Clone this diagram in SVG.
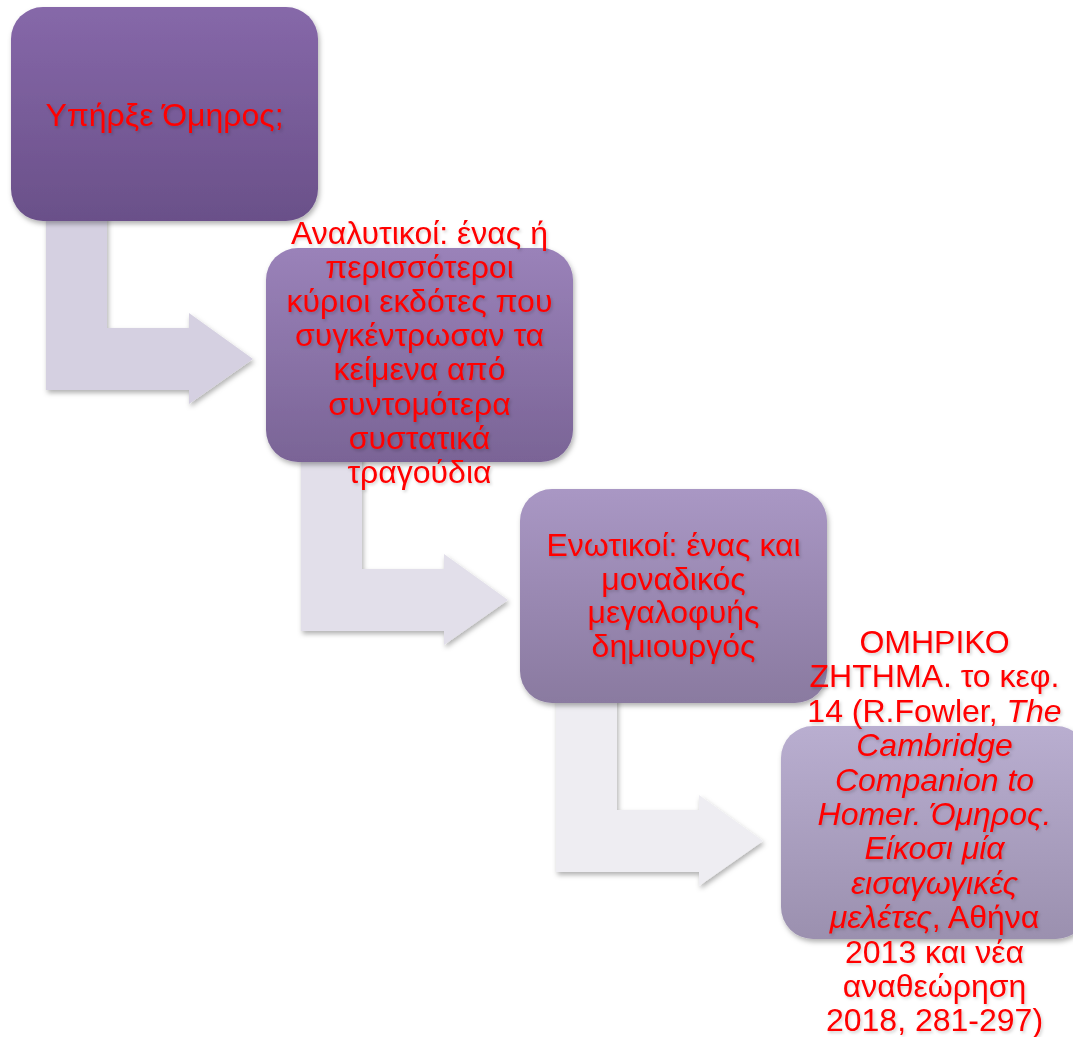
<svg xmlns="http://www.w3.org/2000/svg" width="1073" height="1037" viewBox="0 0 1073 1037">
  <defs>
    <linearGradient id="g1" x1="0" y1="0" x2="0" y2="1">
      <stop offset="0" stop-color="#8668a9"/>
      <stop offset="1" stop-color="#6a5089"/>
    </linearGradient>
    <linearGradient id="g2" x1="0" y1="0" x2="0" y2="1">
      <stop offset="0" stop-color="#9a82b9"/>
      <stop offset="1" stop-color="#7a6496"/>
    </linearGradient>
    <linearGradient id="g3" x1="0" y1="0" x2="0" y2="1">
      <stop offset="0" stop-color="#a997c4"/>
      <stop offset="1" stop-color="#8a7aa0"/>
    </linearGradient>
    <linearGradient id="g4" x1="0" y1="0" x2="0" y2="1">
      <stop offset="0" stop-color="#b9aed0"/>
      <stop offset="1" stop-color="#9b90af"/>
    </linearGradient>
    <filter id="sh" x="-10%" y="-10%" width="130%" height="130%">
      <feDropShadow dx="1.5" dy="3" stdDeviation="2.5" flood-color="#000" flood-opacity="0.3"/>
    </filter>
    <filter id="tsh" x="-10%" y="-20%" width="120%" height="140%">
      <feDropShadow dx="1.5" dy="2" stdDeviation="1.8" flood-color="#000" flood-opacity="0.18"/>
    </filter>
    <path id="bent" d="M46,200 H107 V328 H189 V313 L253,359 L189,404 V390 H46 Z"/>
  </defs>
  <style>
    .box { filter: url(#sh); }
    .arr { filter: url(#sh); }
    text { font-family: "Liberation Sans", Arial, sans-serif; font-size: 32px; fill: #ff0000; text-anchor: middle; filter: url(#tsh); }
    .it { font-style: italic; }
  </style>
  <rect width="1073" height="1037" fill="#ffffff"/>

  <g id="connectors">
    <use href="#bent" class="arr" fill="#d5d0e1"/>
    <use href="#bent" class="arr" fill="#e2dfea" transform="translate(255,241)"/>
    <use href="#bent" class="arr" fill="#eeedf2" transform="translate(510,482)"/>
  </g>

  <g id="node1">
    <rect class="box" x="11" y="7" width="307" height="214" rx="32" fill="url(#g1)"/>
    <text x="164.5" y="126">Υπήρξε Όμηρος;</text>
  </g>

  <g id="node2">
    <rect class="box" x="266" y="248" width="307" height="214" rx="32" fill="url(#g2)"/>
    <text x="419.5" y="244">Αναλυτικοί: ένας ή</text>
    <text x="419.5" y="278.1">περισσότεροι</text>
    <text x="419.5" y="312.2">κύριοι εκδότες που</text>
    <text x="419.5" y="346.3">συγκέντρωσαν τα</text>
    <text x="419.5" y="380.4">κείμενα από</text>
    <text x="419.5" y="414.5">συντομότερα</text>
    <text x="419.5" y="448.6">συστατικά</text>
    <text x="419.5" y="482.7">τραγούδια</text>
  </g>

  <g id="node3">
    <rect class="box" x="520" y="489" width="307" height="214" rx="32" fill="url(#g3)"/>
    <text x="673.5" y="556">Ενωτικοί: ένας και</text>
    <text x="673.5" y="589.5">μοναδικός</text>
    <text x="673.5" y="623">μεγαλοφυής</text>
    <text x="673.5" y="656.5">δημιουργός</text>
  </g>

  <g id="node4">
    <rect class="box" x="781" y="726" width="307" height="213" rx="32" fill="url(#g4)"/>
    <text x="934.5" y="653">ΟΜΗΡΙΚΟ</text>
    <text x="934.5" y="687.4">ΖΗΤΗΜΑ. το κεφ.</text>
    <text x="934.5" y="721.8">14 (R.Fowler, <tspan class="it">The</tspan></text>
    <text x="934.5" y="756.2" class="it">Cambridge</text>
    <text x="934.5" y="790.6" class="it">Companion to</text>
    <text x="934.5" y="825" class="it">Homer. Όμηρος.</text>
    <text x="934.5" y="859.4" class="it">Είκοσι μία</text>
    <text x="934.5" y="893.8" class="it">εισαγωγικές</text>
    <text x="934.5" y="928.2"><tspan class="it">μελέτες</tspan>, Αθήνα</text>
    <text x="934.5" y="962.6">2013 και νέα</text>
    <text x="934.5" y="997">αναθεώρηση</text>
    <text x="934.5" y="1031.4">2018, 281-297)</text>
  </g>
</svg>
